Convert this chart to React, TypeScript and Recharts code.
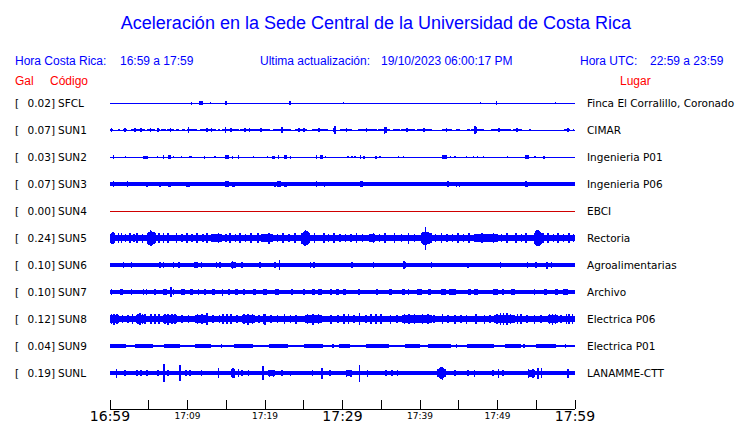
import React from 'react';
import { ComposedChart, Area, XAxis, YAxis, ReferenceArea } from 'recharts';

// stations, top to bottom
const codes = ['SFCL', 'SUN1', 'SUN2', 'SUN3', 'SUN4', 'SUN5', 'SUN6', 'SUN7', 'SUN8', 'SUN9', 'SUNL'];
const peakGal = [0.02, 0.07, 0.03, 0.07, 0.0, 0.24, 0.1, 0.1, 0.12, 0.04, 0.19];
const places = [
  'Finca El Corralillo, Coronado',
  'CIMAR',
  'Ingenieria P01',
  'Ingenieria P06',
  'EBCI',
  'Rectoria',
  'Agroalimentarias',
  'Archivo',
  'Electrica P06',
  'Electrica P01',
  'LANAMME-CTT',
];

// half width of the quiet trace
const baseAmp = [0.5, 0.5, 0.5, 1.7, 0.5, 3.4, 2.0, 1.8, 3.0, 1.3, 1.8];

// blocks: [start minute, end minute, half amplitude]; spikes: [minute, half amplitude]
const sfclBlocks = [[11.5, 11.95, 1.7], [23.1, 23.4, 1.7]];
const sfclSpikes = [[10.5, 1.5], [12.95, 1], [15.0, 1.7], [30.1, 1.3], [47.8, 1.3], [49.85, 1.7], [57.5, 1.3]];

const sun1Blocks = [
  [0, 0.4, 1.1], [1.0, 1.35, 1.1], [1.7, 2.15, 1.1], [2.67, 4.5, 1.1], [4.73, 5.8, 1.1], [6.0, 6.45, 1.1],
  [6.58, 7.18, 1.1], [7.35, 8.3, 1.1], [8.5, 8.9, 1.1], [9.25, 9.7, 1.1], [9.9, 11.2, 1.1], [11.6, 13.7, 1.1],
  [13.9, 14.2, 1.1], [14.5, 16.6, 1.1], [16.8, 20.65, 1.1], [21.07, 23.4, 1.1], [23.9, 25.4, 1.1], [26.0, 28.1, 1.1],
  [29.7, 31.2, 1.1], [32.05, 34.4, 1.1], [34.6, 36.1, 1.1], [36.5, 37.4, 1.1], [37.6, 39.4, 1.1], [39.6, 41.5, 1.1],
  [42.8, 44.1, 1.1], [44.65, 45.2, 1.1], [46.1, 46.4, 1.1], [46.6, 48.3, 1.1], [49.1, 51.7, 1.1], [52.05, 53.1, 1.1],
  [54.0, 54.3, 1.1], [58.6, 59.4, 1.1], [59.7, 59.9, 1.1],
];
const sun1Spikes = [
  [0.2, 1.7], [1.95, 2], [3.2, 1.7], [4.0, 2], [5.2, 1.7], [6.2, 2.2], [7.8, 1.7], [10.1, 3], [12.5, 2],
  [13.1, 1.7], [14.9, 2.8], [15.6, 1.7], [17.4, 1.7], [18.0, 2], [19.5, 1.7], [22.2, 3], [24.4, 1.7], [25.0, 2],
  [27.0, 1.7], [28.9, 2.3], [29.0, 4], [30.5, 1.7], [33.1, 1.7], [35.4, 3.5], [35.6, 2.8], [38.3, 1.7],
  [40.5, 2.2], [43.4, 1.7], [47.1, 4], [47.3, 3], [50.2, 2.2], [52.5, 2], [59.1, 2],
];

const sun2Blocks = [
  [0.35, 0.55, 1.7], [4.3, 4.85, 1.5], [7.5, 7.9, 1.7], [14.9, 15.35, 1.7], [20.95, 21.3, 1.5], [22.45, 22.8, 1.7],
  [26.55, 26.75, 1.7], [27.1, 27.5, 1.7], [42.8, 43.5, 1.7], [53.5, 54.0, 1.7],
];
const sun2Spikes = [
  [2.0, 1], [6.15, 1], [6.88, 1.7], [8.2, 1.2], [9.25, 1], [10.3, 1], [10.5, 1], [12.2, 1.5], [13.55, 1.3],
  [15.8, 1.5], [16.6, 1.7], [18.5, 1], [20.35, 1], [21.75, 1.7], [23.3, 1.5], [27.8, 1.2], [30.7, 1], [31.2, 1],
  [31.6, 1], [32.35, 2.2], [32.8, 1.5], [34.3, 1.5], [34.85, 1], [37.2, 1], [37.85, 1], [43.95, 1.2], [44.5, 1.2],
  [46.0, 1.3], [46.9, 1], [47.4, 1], [48.2, 1], [51.3, 1], [54.85, 1.3], [56.0, 1.5],
];

const sun3Blocks = [
  [7.45, 7.9, 2.5], [14.9, 15.35, 3], [21.1, 21.4, 2.5], [22.45, 22.8, 2.5], [43.5, 43.7, 3], [55.8, 60, 2.1],
];
const sun3Spikes = [
  [0.43, 3], [2.28, 2.8], [4.8, 2.5], [5.7, 2.3], [6.0, 2.3], [6.45, 2.5], [8.5, 2.3], [9.35, 2.3], [9.9, 2.5],
  [10.2, 2.5], [11.27, 2.3], [15.8, 2.5], [16.0, 2.5], [20.56, 2.3], [21.7, 2.8], [21.9, 2.8], [25.0, 2.3],
  [25.7, 2.3], [26.65, 3.3], [27.35, 2.3], [27.7, 2.5], [32.35, 3.3], [32.5, 2.8], [36.05, 2.3], [37.2, 2.3],
  [39.15, 2.3], [43.0, 2.3], [44.7, 2.5], [45.1, 2.5], [51.6, 2.2], [53.7, 3], [53.85, 2.5],
];

const sun4Blocks: number[][] = [];
const sun4Spikes: number[][] = [];

const sun5Blocks = [[0, 0.5, 4.5], [13, 14.5, 3.9], [19.5, 21, 3.9], [33.4, 34.2, 4.2], [47, 50, 3.9]];
const sun5Spikes = [
  // bursts
  [0.05, 6], [0.2, 5.5], [0.4, 6.2], [0.6, 5],
  [4.9, 5.5], [5.05, 6.5], [5.2, 7.8], [5.35, 7.5], [5.5, 6.5], [5.65, 5.8], [5.8, 5],
  [24.8, 5.5], [24.95, 6.5], [25.1, 7.5], [25.25, 8], [25.4, 7], [25.55, 6], [25.7, 5],
  [40.2, 5], [40.4, 6], [40.55, 6.5], [40.7, 11.5], [40.85, 6.5], [41.0, 6], [41.2, 5.5], [41.4, 5],
  [54.8, 5.5], [54.95, 7], [55.1, 8], [55.25, 8], [55.4, 7.5], [55.55, 6.5], [55.7, 5.5], [55.9, 5],
  // scattered noise
  [1.1, 4.6], [1.5, 5], [2.0, 4.4], [2.6, 4.8], [3.1, 4.4], [3.5, 5], [4.2, 4.5], [6.3, 4.8], [6.9, 5],
  [7.5, 4.6], [8.6, 4.6], [9.3, 4.4], [9.9, 5], [10.6, 4.4], [11.2, 4.8], [12.0, 4.4], [12.5, 4.6], [14.0, 5],
  [15.0, 4.4], [15.5, 4.6], [16.2, 4.4], [16.8, 5], [17.5, 4.4], [18.2, 5.2], [19.1, 4.6], [20.5, 5.5],
  [21.6, 4.4], [22.3, 4.6], [23.1, 4.4], [23.9, 5], [26.4, 4.6], [27.6, 5], [28.2, 4.4], [28.9, 4.6],
  [29.7, 4.4], [30.4, 4.4], [31.1, 4.4], [31.8, 4.6], [32.6, 4.4], [34.0, 5.2], [34.8, 4.4], [35.5, 4.6],
  [36.7, 4.6], [37.6, 4.4], [38.5, 5.5], [39.3, 4.4], [42.0, 4.4], [42.8, 4.8], [43.5, 4.4], [44.2, 4.4],
  [44.9, 5], [45.6, 4.4], [46.3, 4.6], [48, 4.8], [49.5, 4.6], [50.5, 4.4], [51.2, 4.6], [52.4, 4.6],
  [53.1, 4.4], [53.7, 5.2], [56.5, 4.6], [57.2, 4.4], [57.8, 4.8], [58.5, 4.4], [59.2, 4.6], [59.8, 4.4],
];

const sun6Blocks = [[15.6, 16.1, 3]];
const sun6Spikes = [
  [1.72, 3], [2.8, 3], [6.45, 3], [6.88, 2.8], [8.17, 3], [8.9, 2.8], [10.97, 3], [11.2, 3], [11.83, 2.8],
  [13.76, 2.8], [14.2, 2.8], [15.8, 4.3], [16.1, 3], [17.0, 2.8], [19.35, 3], [21.3, 3], [21.85, 5.3],
  [25.85, 3], [26.3, 2.8], [31.2, 3], [34.0, 2.8], [37.9, 4.3], [38.1, 3], [41.5, 3.3], [46.2, 2.5],
  [50.4, 3.2], [53.85, 3.3], [55.0, 2.8], [56.4, 3.5], [56.95, 2.8],
];

const sun7Blocks = [
  [1.3, 1.7, 2.8], [4.3, 4.4, 2.8], [6.9, 7.3, 2.8], [9.15, 9.7, 2.8], [13.2, 13.55, 2.8], [15.2, 15.5, 2.8],
  [16.1, 16.55, 2.8], [18.5, 18.9, 2.8], [19.8, 20.3, 2.8], [21.3, 21.8, 2.8], [23.3, 23.6, 2.8], [26.1, 26.4, 2.8],
  [26.9, 27.4, 2.8], [28.4, 28.7, 2.8], [29.1, 29.5, 2.8], [30.1, 30.4, 2.8], [36.0, 36.4, 2.8], [37.7, 38.0, 2.8],
  [39.6, 40.3, 2.8], [41.0, 41.4, 2.8], [42.75, 43.4, 2.8], [43.8, 44.7, 2.8], [46.2, 46.6, 2.8], [47.0, 47.5, 2.8],
  [49.4, 50.1, 2.8], [51.8, 52.2, 2.8], [57.4, 57.8, 2.8], [58.5, 59.1, 2.8],
];
const sun7Spikes = [
  [0.2, 3], [2.8, 2.7], [4.7, 3], [5.8, 2.7], [7.87, 4.8], [8.17, 3], [10.45, 3], [10.6, 3], [11.4, 3],
  [12.25, 2.8], [14.5, 3.5], [17.3, 3], [25.0, 2.8], [32.1, 3], [34.45, 3], [38.5, 3], [50.7, 3], [54.8, 3],
  [56.1, 3], [56.3, 3],
];

const sun8Blocks = [
  [0, 1.1, 3.8], [3.4, 4.7, 4], [6.9, 8.6, 3.8], [11, 12.7, 3.8], [17, 18.7, 3.8], [25.2, 27.4, 3.8],
  [37.7, 41.5, 3.6], [49.6, 52.2, 4], [56.5, 57.8, 4],
];
const sun8Spikes = [
  [0.2, 5], [0.5, 5.5], [0.9, 4.8], [1.6, 4.4], [2.3, 4.4], [2.9, 4.6], [3.6, 5.2], [3.9, 6], [4.2, 5.4],
  [4.5, 4.8], [5.3, 4.6], [5.8, 4.8], [6.3, 4.6], [7.1, 4.8], [7.5, 5.5], [8.0, 5], [8.4, 4.6], [9.3, 4.4],
  [10.1, 4.4], [11.3, 4.6], [11.9, 4.8], [12.5, 6], [13.3, 4.4], [14.1, 4.4], [14.6, 4.8], [15.1, 5.2],
  [15.6, 4.6], [16.4, 4.4], [17.3, 4.8], [17.8, 5.5], [18.4, 4.8], [19.2, 4.4], [19.8, 4.8], [20.0, 5.5],
  [20.8, 4.4], [21.6, 4.4], [22.5, 4.8], [23.3, 4.4], [24.0, 4.5], [25.5, 4.8], [26.2, 5.5], [26.9, 4.8],
  [28.5, 4.5], [29.4, 4.4], [30.2, 4.8], [30.8, 4.6], [31.5, 4.4], [32.2, 6], [33.0, 4.4], [33.7, 4.8],
  [34.3, 5], [35.0, 4.6], [36.2, 4.5], [37.0, 4.4], [38.0, 4.6], [38.6, 5], [39.3, 4.6], [40.3, 5], [41.0, 4.6],
  [41.8, 4.4], [42.9, 5.2], [43.6, 4.4], [44.5, 4.5], [45.3, 4.4], [46.0, 4.5], [47.2, 4.8], [48.3, 4.5],
  [49.0, 4.4], [49.9, 5], [50.4, 5.8], [50.8, 6.3], [51.2, 5.6], [51.7, 4.8], [52.6, 5], [53, 4.8], [53.8, 4.4],
  [54.8, 4.5], [55.6, 4.4], [56.7, 5], [57.1, 5.5], [57.5, 5], [58.2, 4.4], [58.9, 4.8], [59.2, 5], [59.7, 4.6],
];

const sun9Blocks = [
  [0, 2.0, 1.7], [3.2, 5.5, 1.7], [7, 9, 1.7], [11, 13, 1.7], [16, 18.5, 1.7], [20.5, 23, 1.7], [25, 27.5, 1.7],
  [29.5, 31, 1.7], [33, 36, 1.7], [38, 40, 1.7], [41, 44, 1.7], [46, 49.5, 1.7], [51, 53, 1.7], [55, 57.5, 1.7],
];
const sun9Spikes = [[1.0, 1.8], [14.4, 2.2], [28.8, 2], [33.6, 2], [44.7, 1.8], [53.4, 1.8], [58.8, 1.8]];

const sunlBlocks = [[20.4, 21.3, 3], [30.4, 31.2, 3], [53.9, 54.8, 3.5]];
const sunlSpikes = [
  [0.86, 4.5], [1.9, 2.7], [3.5, 2.7], [4.0, 2.7], [4.8, 2.7], [6.2, 3], [7.0, 9], [7.5, 3.3], [9.03, 7.7],
  [9.8, 3], [10.3, 3], [11.83, 3], [13.98, 5], [15.7, 4], [15.85, 5], [16.0, 4.5], [16.6, 4], [17.0, 3.2],
  [17.85, 3], [19.75, 7], [20.6, 3.5], [21.1, 3.5], [22.2, 2.8], [23.3, 2.5], [26.1, 3], [27.35, 5.5], [28.4, 3],
  [30.5, 3.5], [31.1, 3.5], [32.2, 8.5], [33.2, 3.5], [35.6, 2.8], [36.4, 2.8], [37.1, 2.8],
  [42.3, 4], [42.5, 5], [42.7, 6], [42.9, 6.5], [43.05, 5], [43.2, 4], [44.5, 3], [46.2, 2.8],
  [47.05, 3.5], [49.4, 3], [50.1, 4.5], [50.7, 2.8], [54.0, 4.5], [54.6, 4.5], [55.2, 5.5], [55.65, 5], [59.1, 4.5],
];

const blocksByStation = [
  sfclBlocks, sun1Blocks, sun2Blocks, sun3Blocks, sun4Blocks, sun5Blocks,
  sun6Blocks, sun7Blocks, sun8Blocks, sun9Blocks, sunlBlocks,
];
const spikesByStation = [
  sfclSpikes, sun1Spikes, sun2Spikes, sun3Spikes, sun4Spikes, sun5Spikes,
  sun6Spikes, sun7Spikes, sun8Spikes, sun9Spikes, sunlSpikes,
];

const xTicks = [0, 5, 10, 15, 20, 25, 30, 35, 40, 45, 50, 55, 60];
const xTickLabels = ['16:59', '', '17:09', '', '17:19', '', '17:29', '', '17:39', '', '17:49', '', '17:59'];
const bigLabels = ['16:59', '17:29', '17:59'];

const BLUE = '#0000ff';
const RED = '#d00000';
const ROW_GAP = 27;
const SPIKE_W = 0.1;

const center = (i: number) => i * ROW_GAP;
const colorOf = (i: number) => (codes[i] === 'SUN4' ? RED : BLUE);
const axisOf = (i: number) => (codes[i] === 'SUN4' ? 'right' : 'left');

const chartData = [0, 60].map((t) => {
  const row: Record<string, any> = { t };
  codes.forEach((c, i) => {
    row[c] = [center(i) - baseAmp[i], center(i) + baseAmp[i]];
  });
  return row;
});

const events: { x1: number; x2: number; y1: number; y2: number; color: string }[] = [];
codes.forEach((_, i) => {
  blocksByStation[i].forEach(([s, e, a]) =>
    events.push({ x1: s, x2: e, y1: center(i) - a, y2: center(i) + a, color: colorOf(i) })
  );
  spikesByStation[i].forEach(([t, a]) =>
    events.push({ x1: t - SPIKE_W, x2: t + SPIKE_W, y1: center(i) - a, y2: center(i) + a, color: colorOf(i) })
  );
});

const rowTicks = codes.map((_, i) => center(i));
const labelFont = '"DejaVu Sans", sans-serif';
const headFont = '"Liberation Sans", Arial, sans-serif';
const LABEL_SIZE = 10.5;

const TimeTick = (props: any) => {
  const { x, y, payload } = props;
  const label = xTickLabels[xTicks.indexOf(payload.value)] || '';
  const big = bigLabels.includes(label);
  return (
    <g>
      <line x1={x} x2={x} y1={y} y2={y - 9} stroke="#000" strokeWidth={1} shapeRendering="crispEdges" />
      {label && (
        <text
          x={x}
          y={big ? y + 12 : y + 10}
          textAnchor="middle"
          fontSize={big ? 14 : 9}
          fontFamily={labelFont}
          fill="#000"
        >
          {label}
        </text>
      )}
    </g>
  );
};

const StationTick = (props: any) => {
  const { x, y, payload } = props;
  const i = rowTicks.indexOf(payload.value);
  if (i < 0) return null;
  return (
    <g fontFamily={labelFont} fontSize={LABEL_SIZE} fill="#000">
      <text x={x - 95} y={y + 4}>[</text>
      <text x={x - 55} y={y + 4} textAnchor="end">
        {peakGal[i].toFixed(2)}]
      </text>
      <text x={x - 52} y={y + 4}>{codes[i]}</text>
    </g>
  );
};

const PlaceTick = (props: any) => {
  const { x, y, payload } = props;
  const i = rowTicks.indexOf(payload.value);
  if (i < 0) return null;
  return (
    <text x={x + 12} y={y + 4} fontFamily={labelFont} fontSize={LABEL_SIZE} fill="#000">
      {places[i]}
    </text>
  );
};

export default function App() {
  return (
    <div style={{ position: 'absolute', left: 0, top: 0, width: 740, height: 423, background: '#fff' }}>
      <ComposedChart width={740} height={423} data={chartData} margin={{ top: 85, right: 0, bottom: 0, left: 0 }}>
        <XAxis
          dataKey="t"
          type="number"
          domain={[0, 60]}
          ticks={xTicks}
          interval={0}
          height={14}
          tickLine={false}
          tickSize={0}
          tickMargin={0}
          axisLine={{ stroke: '#000', shapeRendering: 'crispEdges' }}
          tick={<TimeTick />}
        />
        <YAxis
          yAxisId="left"
          type="number"
          domain={[-18, 306]}
          reversed
          ticks={rowTicks}
          interval={0}
          width={110}
          axisLine={false}
          tickLine={false}
          tickSize={0}
          tickMargin={0}
          tick={<StationTick />}
        />
        <YAxis
          yAxisId="right"
          orientation="right"
          type="number"
          domain={[-18, 306]}
          reversed
          ticks={rowTicks}
          interval={0}
          width={165}
          axisLine={false}
          tickLine={false}
          tickSize={0}
          tickMargin={0}
          tick={<PlaceTick />}
        />
        {codes.map((c, i) => (
          <Area
            key={c}
            yAxisId={axisOf(i)}
            dataKey={c}
            type="linear"
            stroke="none"
            fill={colorOf(i)}
            fillOpacity={1}
            shapeRendering="crispEdges"
            dot={false}
            activeDot={false}
            isAnimationActive={false}
          />
        ))}
        {events.map((ev, k) => (
          <ReferenceArea
            key={k}
            yAxisId="left"
            x1={ev.x1}
            x2={ev.x2}
            y1={ev.y1}
            y2={ev.y2}
            fill={ev.color}
            fillOpacity={1}
            stroke="none"
            shapeRendering="crispEdges"
          />
        ))}
      </ComposedChart>
      <svg width={740} height={423} style={{ position: 'absolute', left: 0, top: 0, pointerEvents: 'none' }}>
        <g fontFamily={headFont}>
          <text x={376} y={29} textAnchor="middle" fontSize={18} fill={BLUE}>
            Aceleración en la Sede Central de la Universidad de Costa Rica
          </text>
          <g fontSize={12} fill={BLUE}>
            <text x={15} y={65}>Hora Costa Rica:</text>
            <text x={120} y={65}>16:59 a 17:59</text>
            <text x={260} y={65}>Ultima actualización:</text>
            <text x={381} y={65}>19/10/2023 06:00:17 PM</text>
            <text x={580} y={65}>Hora UTC:</text>
            <text x={650} y={65}>22:59 a 23:59</text>
          </g>
          <g fontSize={12} fill="#ff0000">
            <text x={15} y={85}>Gal</text>
            <text x={50} y={85}>Código</text>
            <text x={620} y={85}>Lugar</text>
          </g>
        </g>
      </svg>
    </div>
  );
}
